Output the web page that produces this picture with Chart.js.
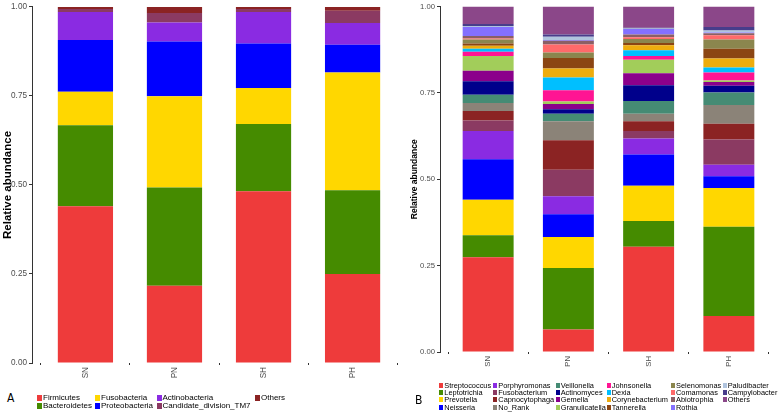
<!DOCTYPE html>
<html>
<head>
<meta charset="utf-8">
<script src="https://cdn.jsdelivr.net/npm/chart.js@4"></script>
<style>
  body { margin: 0; background: #fff; }
  #wrap { position: relative; width: 778px; height: 412px; overflow: hidden; font-family: "Liberation Sans", Arial, sans-serif; }
  canvas { position: absolute; top: 0; }
  #chartA { left: 0; }
  #chartB { left: 400px; }
  .tag { position: absolute; font-family: "Liberation Sans Narrow", "DejaVu Sans Condensed", sans-serif; font-size: 12px; color: #000; }
  .item { position: absolute; display: flex; align-items: center; white-space: nowrap; color: #000; }
  .box { display: inline-block; margin-right: 1px; }
  #legendA .item { font-size: 8px; height: 8px; line-height: 8px; }
  #legendA .box { width: 5px; height: 6px; }
  #legendB .item { font-size: 7.4px; height: 7px; line-height: 7px; }
  #legendB .box { width: 4px; height: 5px; }
</style>
</head>
<body>
<div id="wrap">
  <canvas id="chartA" width="406" height="390"></canvas>
  <canvas id="chartB" width="378" height="375"></canvas>
  <div class="tag" style="left:7px; top:391px;">A</div>
  <div class="tag" style="left:415px; top:393px;">B</div>
  <div id="legendA"></div>
  <div id="legendB"></div>
</div>
<script>
const groups = ["SN", "PN", "SH", "PH"];

// panel A: phyla
const phyla = ["Firmicutes", "Bacteroidetes", "Fusobacteria", "Proteobacteria", "Actinobacteria", "Candidate_division_TM7", "Others"];
const phylaColors = ["#EE3B3B", "#458B00", "#FFD700", "#0000FF", "#8A2BE2", "#8B3A62", "#8B2323"];
const phylaSN = [0.440, 0.228, 0.094, 0.145, 0.079, 0.008, 0.006];
const phylaPN = [0.217, 0.276, 0.256, 0.154, 0.053, 0.027, 0.017];
const phylaSH = [0.482, 0.189, 0.101, 0.125, 0.089, 0.008, 0.006];
const phylaPH = [0.250, 0.235, 0.331, 0.078, 0.061, 0.034, 0.011];

// panel B: genera
const genera = ["Streptococcus", "Leptotrichia", "Prevotella", "Neisseria", "Porphyromonas", "Fusobacterium",
  "Capnocytophaga", "No_Rank", "Veillonella", "Actinomyces", "Gemella", "Granulicatella", "Johnsonella", "Dexia",
  "Corynebacterium", "Tannerella", "Selenomonas", "Comamonas", "Abiotrophia", "Rothia", "Paludibacter",
  "Campylobacter", "Others"];
const generaColors = ["#EE3B3B", "#458B00", "#FFD700", "#0000FF", "#8A2BE2", "#8B3A62", "#8B2323", "#8B8378",
  "#458B74", "#00008B", "#8B008B", "#A2CD5A", "#FF1493", "#00BFFF", "#EEAD0E", "#8B4513", "#8B864E", "#FF6A6A",
  "#8B5F65", "#8470FF", "#B0C4DE", "#483D8B", "#8B4789"];
const generaSN = [0.274, 0.064, 0.103, 0.117, 0.082, 0.030, 0.028, 0.023, 0.024, 0.039, 0.030, 0.043, 0.012, 0.009, 0.009, 0.006, 0.012, 0.003, 0.007, 0.026, 0.003, 0.006, 0.050];
const generaPN = [0.065, 0.178, 0.090, 0.066, 0.052, 0.077, 0.085, 0.055, 0.022, 0.013, 0.015, 0.007, 0.033, 0.037, 0.026, 0.030, 0.016, 0.023, 0.011, 0.002, 0.010, 0.006, 0.081];
const generaSH = [0.305, 0.074, 0.102, 0.091, 0.046, 0.022, 0.028, 0.022, 0.037, 0.045, 0.035, 0.039, 0.011, 0.017, 0.014, 0.007, 0.011, 0.005, 0.008, 0.016, 0.002, 0.002, 0.061];
const generaPH = [0.104, 0.259, 0.112, 0.034, 0.033, 0.073, 0.046, 0.054, 0.036, 0.020, 0.011, 0.004, 0.023, 0.015, 0.026, 0.028, 0.027, 0.012, 0.006, 0.002, 0.006, 0.010, 0.059];

const yTicks = [0, 0.25, 0.5, 0.75, 1];

function makeDatasets(names, colors, columns) {
  return names.map((name, i) => ({
    label: name,
    data: columns.map((col, j) => ({ x: j + 1, y: col[i] })),
    backgroundColor: colors[i],
    borderWidth: 0,
  }));
}

function makeChart(id, datasets, opt) {
  return new Chart(document.getElementById(id), {
    type: "bar",
    data: { datasets: datasets },
    options: {
      responsive: false,
      animation: false,
      layout: { padding: { top: opt.top, right: opt.right, left: 0, bottom: 0 } },
      datasets: { bar: { categoryPercentage: 1, barPercentage: opt.barPct } },
      plugins: { legend: { display: false }, tooltip: { enabled: false } },
      scales: {
        x: {
          type: "linear",
          stacked: true,
          offset: false,
          min: 0.4,
          max: 4.6,
          border: { display: false },
          grid: { drawOnChartArea: false, drawTicks: true, tickLength: 2, color: "#333" },
          ticks: {
            stepSize: 1,
            includeBounds: false,
            autoSkip: false,
            minRotation: 90,
            maxRotation: 90,
            padding: 2,
            color: "#4D4D4D",
            font: { family: "Liberation Sans", size: opt.tickSize },
            callback: (v) => groups[v - 1],
          },
          afterFit: (scale) => { scale.height = opt.xHeight; },
        },
        y: {
          stacked: true,
          min: 0,
          max: 1,
          border: { display: true, color: "#333", width: 1 },
          grid: { drawOnChartArea: false, drawTicks: true, tickLength: 3, color: "#333" },
          afterBuildTicks: (scale) => { scale.ticks = yTicks.map((v) => ({ value: v })); },
          ticks: {
            padding: 2,
            color: "#4D4D4D",
            font: { family: "Liberation Sans", size: opt.tickSize },
            callback: (v) => v.toFixed(2),
          },
          title: {
            display: true,
            text: "Relative abundance",
            color: "#000",
            padding: { top: opt.titlePad, bottom: 0 },
            font: { family: "Liberation Sans", size: opt.titleSize, weight: "bold" },
          },
          afterFit: (scale) => { scale.width = opt.yWidth; },
        },
      },
    },
  });
}

makeChart("chartA", makeDatasets(phyla, phylaColors, [phylaSN, phylaPN, phylaSH, phylaPH]), {
  top: 4, right: 0, barPct: 0.62, tickSize: 8.2, xHeight: 27, yWidth: 32, titlePad: 1, titleSize: 11.5,
});

makeChart("chartB", makeDatasets(genera, generaColors, [generaSN, generaPN, generaSH, generaPH]), {
  top: 4, right: 1, barPct: 0.635, tickSize: 7.7, xHeight: 23, yWidth: 40, titlePad: 10, titleSize: 8.5,
});

function buildLegend(el, names, colors, rows, colLefts, rowCenters, h) {
  names.forEach((name, i) => {
    let col = Math.floor(i / rows);
    let row = i % rows;
    let item = document.createElement("div");
    item.className = "item";
    item.style.left = colLefts[col] + "px";
    item.style.top = (rowCenters[row] - h / 2) + "px";
    item.innerHTML = `<span class="box" style="background:${colors[i]}"></span>${name}`;
    el.append(item);
  });
}

buildLegend(document.getElementById("legendA"), phyla, phylaColors, 2, [37, 95, 156.5, 255], [397.7, 405.7], 8);
buildLegend(document.getElementById("legendB"), genera, generaColors, 4, [439.3, 493.3, 555.7, 606.7, 671, 722.7], [385, 392.3, 399.7, 407], 7);
</script>
</body>
</html>
